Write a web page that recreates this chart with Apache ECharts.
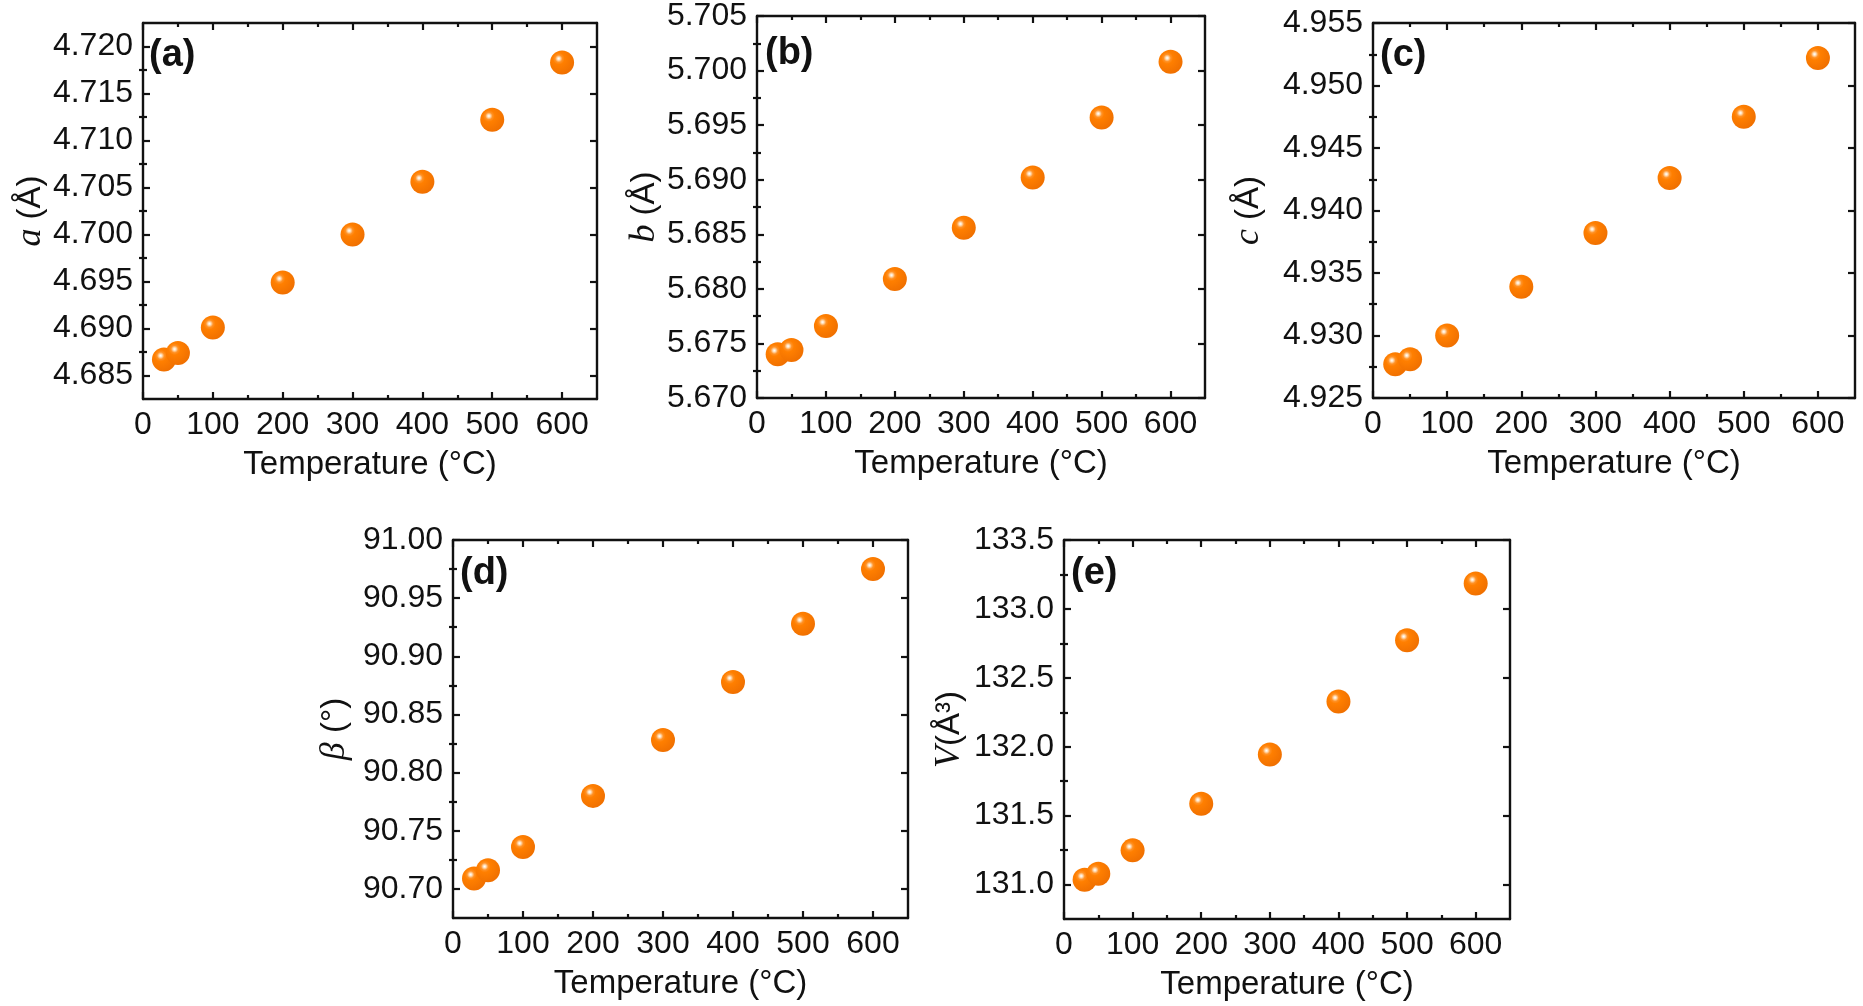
<!DOCTYPE html>
<html>
<head>
<meta charset="utf-8">
<script src="https://cdn.jsdelivr.net/npm/echarts@6/dist/echarts.min.js"></script>
<style>
html,body{margin:0;padding:0;background:#fff;}
#chart{width:1863px;height:1006px;}
</style>
</head>
<body>
<div id="chart"></div>
<script>
// ---- data ----
const temps = [30, 50, 100, 200, 300, 400, 500, 600];
const aVals = [4.6867, 4.6874, 4.6901, 4.6949, 4.7000, 4.7056, 4.7122, 4.7183];
const bVals = [5.6740, 5.6744, 5.6766, 5.6809, 5.6856, 5.6902, 5.6957, 5.7008];
const cVals = [4.9277, 4.9281, 4.9300, 4.9339, 4.9382, 4.9426, 4.9475, 4.9522];
const betaVals = [90.709, 90.716, 90.736, 90.780, 90.828, 90.878, 90.928, 90.975];
const volVals = [131.034, 131.078, 131.248, 131.587, 131.944, 132.328, 132.772, 133.184];

// ---- tick labels ----
const tempTicks = [0, 100, 200, 300, 400, 500, 600];
const aTicks = [4.685, 4.690, 4.695, 4.700, 4.705, 4.710, 4.715, 4.720];
const bTicks = [5.670, 5.675, 5.680, 5.685, 5.690, 5.695, 5.700, 5.705];
const cTicks = [4.925, 4.930, 4.935, 4.940, 4.945, 4.950, 4.955];
const betaTicks = [90.70, 90.75, 90.80, 90.85, 90.90, 90.95, 91.00];
const volTicks = [131.0, 131.5, 132.0, 132.5, 133.0, 133.5];

const FONT = '"Liberation Sans", Arial, sans-serif';
const SERIF = '"Liberation Serif", "Times New Roman", serif';
const INK = '#111';

function minors(ticks, lo, hi) {
  const step = ticks[1] - ticks[0];
  const out = [];
  const first = ticks[0] - step / 2;
  for (let k = 0; k <= ticks.length; k++) {
    const v = first + k * step;
    if (v > lo + step * 0.01 && v < hi - step * 0.01) out.push(+v.toFixed(6));
  }
  return out;
}

const panels = [
  { vals: aVals, ticks: aTicks, min: 4.6825, max: 4.7225, dec: 3, name: '{i|a} (Å)', gap: 94,
    grid: { left: 143, top: 23, width: 454, height: 376 }, tag: '(a)', tagPos: [149, 37] },
  { vals: bVals, ticks: bTicks, min: 5.670, max: 5.705, dec: 3, name: '{i|b} (Å)', gap: 94,
    grid: { left: 757, top: 16, width: 448, height: 382 }, tag: '(b)', tagPos: [765, 35] },
  { vals: cVals, ticks: cTicks, min: 4.925, max: 4.955, dec: 3, name: '{i|c} (Å)', gap: 106,
    grid: { left: 1373, top: 23, width: 482, height: 375 }, tag: '(c)', tagPos: [1380, 37] },
  { vals: betaVals, ticks: betaTicks, min: 90.675, max: 91.00, dec: 2, name: '{i|β} (°)', gap: 100,
    grid: { left: 453, top: 540, width: 455, height: 378 }, tag: '(d)', tagPos: [460, 555] },
  { vals: volVals, ticks: volTicks, min: 130.75, max: 133.5, dec: 1, name: '{i|V}(Å³)', gap: 96,
    grid: { left: 1064, top: 540, width: 446, height: 379 }, tag: '(e)', tagPos: [1071, 555] }
];

const grids = [], xAxes = [], yAxes = [], series = [], graphics = [];
const tempMinors = minors(tempTicks, 0, 650);

const lineStyle = { color: INK, width: 2.4 };
const tickStyle = { color: INK, width: 2.2 };

panels.forEach((p, i) => {
  grids.push(Object.assign({ containLabel: false }, p.grid));
  const yMinors = minors(p.ticks, p.min, p.max);
  const base = { gridIndex: i, type: 'value', min: 0, max: 650,
    splitLine: { show: false }, axisLine: { show: true, onZero: false, lineStyle } };
  xAxes.push(Object.assign({}, base, {
    position: 'bottom',
    name: 'Temperature (°C)', nameLocation: 'middle', nameGap: 49,
    nameTextStyle: { fontFamily: FONT, fontSize: 33, color: INK },
    axisTick: { show: true, inside: true, length: 7, lineStyle: tickStyle, customValues: tempTicks },
    axisLabel: { show: true, margin: 10, fontFamily: FONT, fontSize: 32, color: INK, customValues: tempTicks,
      formatter: v => String(Math.round(v)) }
  }));
  xAxes.push(Object.assign({}, base, {
    position: 'bottom', axisLine: { show: false },
    axisTick: { show: true, inside: true, length: 4, lineStyle: tickStyle, customValues: tempMinors },
    axisLabel: { show: false }
  }));
  xAxes.push(Object.assign({}, base, {
    position: 'top',
    axisTick: { show: true, inside: true, length: 7, lineStyle: tickStyle, customValues: tempTicks },
    axisLabel: { show: false }
  }));
  xAxes.push(Object.assign({}, base, {
    position: 'top', axisLine: { show: false },
    axisTick: { show: true, inside: true, length: 4, lineStyle: tickStyle, customValues: tempMinors },
    axisLabel: { show: false }
  }));

  const ybase = { gridIndex: i, type: 'value', min: p.min, max: p.max, scale: true,
    splitLine: { show: false }, axisLine: { show: true, onZero: false, lineStyle } };
  yAxes.push(Object.assign({}, ybase, {
    position: 'left',
    name: p.name, nameLocation: 'middle', nameGap: p.gap, nameRotate: 90,
    nameTextStyle: { fontFamily: FONT, fontSize: 33, color: INK,
      rich: { i: { fontFamily: SERIF, fontStyle: 'italic', fontSize: 36, color: INK } } },
    axisTick: { show: true, inside: true, length: 7, lineStyle: tickStyle, customValues: p.ticks },
    axisLabel: { show: true, margin: 10, fontFamily: FONT, fontSize: 32, color: INK, customValues: p.ticks,
      formatter: v => v.toFixed(p.dec) }
  }));
  yAxes.push(Object.assign({}, ybase, {
    position: 'left', axisLine: { show: false },
    axisTick: { show: true, inside: true, length: 4, lineStyle: tickStyle, customValues: yMinors },
    axisLabel: { show: false }
  }));
  yAxes.push(Object.assign({}, ybase, {
    position: 'right',
    axisTick: { show: true, inside: true, length: 7, lineStyle: tickStyle, customValues: p.ticks },
    axisLabel: { show: false }
  }));
  yAxes.push(Object.assign({}, ybase, {
    position: 'right', axisLine: { show: false },
    axisTick: { show: true, inside: true, length: 4, lineStyle: tickStyle, customValues: yMinors },
    axisLabel: { show: false }
  }));

  series.push({
    type: 'scatter', xAxisIndex: 4 * i, yAxisIndex: 4 * i,
    data: temps.map((t, k) => [t, p.vals[k]]),
    symbol: 'circle', symbolSize: 24, z: 5,
    itemStyle: {
      opacity: 1,
      color: {
        type: 'radial', x: 0.36, y: 0.34, r: 0.68,
        colorStops: [
          { offset: 0, color: '#ffffff' },
          { offset: 0.08, color: '#ffe4c4' },
          { offset: 0.22, color: '#ff9226' },
          { offset: 0.36, color: '#ff7f00' },
          { offset: 1, color: '#f07000' }
        ]
      }
    }
  });

  graphics.push({
    type: 'text', left: p.tagPos[0], top: p.tagPos[1], z: 10,
    style: { text: p.tag, font: 'bold 38px ' + FONT, fill: INK }
  });
});

const chart = echarts.init(document.getElementById('chart'), null, { renderer: 'canvas' });
chart.setOption({
  backgroundColor: '#ffffff',
  animation: false,
  grid: grids,
  xAxis: xAxes,
  yAxis: yAxes,
  series: series,
  graphic: graphics
});
</script>
</body>
</html>
